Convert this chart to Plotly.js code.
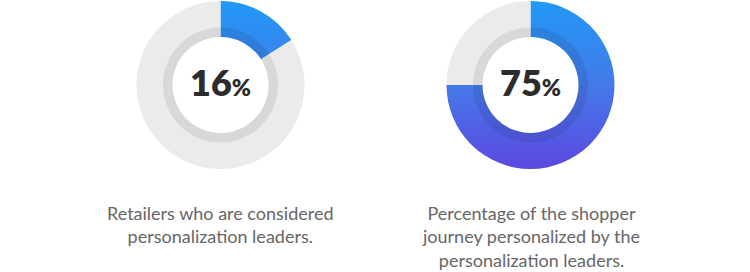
<!DOCTYPE html>
<html>
<head>
<meta charset="utf-8">
<script src="https://cdn.plot.ly/plotly-3.0.1.min.js"></script>
<style>
  html, body { margin: 0; padding: 0; background: #fff; }
  #chart { width: 750px; height: 272px; }
</style>
</head>
<body>
<div id="chart"></div>
<script>
// ---- data ----
const shareLabels = ["Personalized", "Other"];
const leftValues = [16, 84];
const rightValues = [75, 25];
const leftLabel = "16";
const rightLabel = "75";
const leftCaption = ["Retailers who are considered", "personalization leaders."];
const rightCaption = ["Percentage of the shopper", "journey personalized by the", "personalization leaders."];

// ---- geometry (pixels) ----
const W = 750, H = 272;
const cy = 85, rOuter = 84, rShade = 57.5, rInner = 48;
const centers = [220.5, 530.5];

function dom(cx, r) {
  return {
    x: [(cx - r) / W, (cx + r) / W],
    y: [(H - cy - r) / H, (H - cy + r) / H]
  };
}

const grey = "#EBEBEB";
const traces = [];
[leftValues, rightValues].forEach((vals, i) => {
  traces.push({
    type: "pie",
    labels: shareLabels,
    values: vals,
    sort: false,
    direction: "clockwise",
    rotation: 0,
    hole: rInner / rOuter,
    domain: dom(centers[i], rOuter),
    marker: { colors: ["#3A80EA", grey], line: { width: 0 } },
    textinfo: "none",
    hoverinfo: "skip",
    showlegend: false
  });
});
// inner shade rings
centers.forEach(cx => {
  traces.push({
    type: "pie",
    labels: ["shade"],
    values: [1],
    hole: rInner / rShade,
    domain: dom(cx, rShade),
    marker: { colors: ["rgba(0,0,0,0.08)"], line: { width: 0 } },
    textinfo: "none",
    hoverinfo: "skip",
    showlegend: false
  });
});

const numFont = { family: "Lato, 'Open Sans', sans-serif", size: 36, color: "#2C2C2C", weight: 800 };
const capFont = { family: "Lato, 'Noto Sans', sans-serif", size: 18, color: "#666666", weight: 400 };

const annotations = [];
[leftLabel, rightLabel].forEach((t, i) => {
  annotations.push({
    xref: "paper", yref: "paper",
    x: centers[i] / W, y: (H - 82) / H,
    xanchor: "center", yanchor: "middle",
    text: t + "<span style='font-size:23px'>%</span>",
    showarrow: false, font: numFont
  });
});
[leftCaption, rightCaption].forEach((lines, i) => {
  annotations.push({
    xref: "paper", yref: "paper",
    x: centers[i] / W, y: (H - 200) / H,
    xanchor: "center", yanchor: "top",
    align: "center",
    text: lines.join("<br>"),
    showarrow: false, font: capFont
  });
});

const layout = {
  width: W, height: H,
  margin: { l: 0, r: 0, t: 0, b: 0 },
  paper_bgcolor: "#fff",
  plot_bgcolor: "#fff",
  annotations: annotations
};

Plotly.newPlot("chart", traces, layout, { displayModeBar: false, staticPlot: true }).then(gd => {
  const svg = gd.querySelector("svg.main-svg");
  const ns = "http://www.w3.org/2000/svg";
  const defs = document.createElementNS(ns, "defs");
  const lg = document.createElementNS(ns, "linearGradient");
  lg.setAttribute("id", "ringGrad");
  lg.setAttribute("gradientUnits", "userSpaceOnUse");
  lg.setAttribute("x1", "0"); lg.setAttribute("y1", String(cy - rOuter));
  lg.setAttribute("x2", "0"); lg.setAttribute("y2", String(cy + rOuter));
  [["0", "#2199F5"], ["0.5", "#4479E8"], ["1", "#5C48E0"]].forEach(([o, c]) => {
    const s = document.createElementNS(ns, "stop");
    s.setAttribute("offset", o); s.setAttribute("stop-color", c);
    lg.appendChild(s);
  });
  defs.appendChild(lg);
  svg.insertBefore(defs, svg.firstChild);
  const pieTraces = gd.querySelectorAll(".pielayer .trace");
  [0, 1].forEach(k => {
    const slices = pieTraces[k].querySelectorAll("g.slice");
    const p = slices[0].querySelector("path.surface");
    p.style.fill = "url(#ringGrad)";
  });
});
</script>
</body>
</html>
